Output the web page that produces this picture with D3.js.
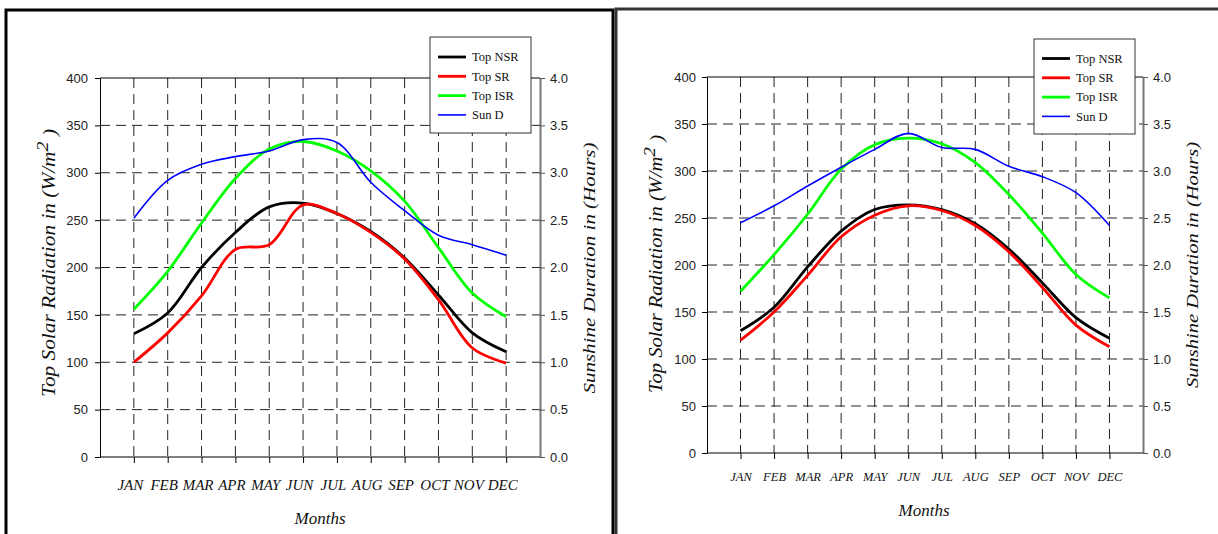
<!DOCTYPE html>
<html>
<head>
<meta charset="utf-8">
<script src="https://cdn.jsdelivr.net/npm/d3@7/dist/d3.min.js"></script>
<style>
  body { margin: 0; background: #fff; }
  svg { display: block; }
  .tick-lbl { font-family: "Liberation Sans", Arial, sans-serif; font-size: 13px; fill: #222; }
  .ser { font-family: "Liberation Serif", "Times New Roman", serif; font-style: italic; fill: #111; }
  .leg { font-family: "Liberation Serif", "Times New Roman", serif; font-size: 12.5px; fill: #111; }
</style>
</head>
<body>
<div id="chart"></div>
<script>
// months on the x axis
var months = ["JAN","FEB","MAR","APR","MAY","JUN","JUL","AUG","SEP","OCT","NOV","DEC"];
var radTicks = [0, 50, 100, 150, 200, 250, 300, 350, 400];
var sunTicks = [0, 0.5, 1, 1.5, 2, 2.5, 3, 3.5, 4];

// left panel (W/m2 and hours)
var leftNSR = [130, 152, 200, 237, 264, 268, 257, 238, 210, 171, 131, 111];
var leftSR  = [100, 131, 170, 219, 224, 266, 257, 237, 209, 166, 115, 99];
var leftISR = [156, 196, 247, 294, 325, 333, 323, 302, 270, 221, 173, 148];
var leftSun = [2.52, 2.92, 3.09, 3.17, 3.23, 3.35, 3.32, 2.90, 2.60, 2.34, 2.24, 2.13];

// right panel
var rightNSR = [130, 155, 198, 236, 259, 264, 259, 244, 217, 181, 144, 122];
var rightSR  = [120, 150, 189, 230, 253, 263, 258, 242, 214, 176, 136, 113];
var rightISR = [172, 211, 254, 302, 328, 335, 329, 309, 275, 234, 190, 165];
var rightSun = [2.45, 2.63, 2.84, 3.04, 3.23, 3.40, 3.25, 3.23, 3.05, 2.94, 2.77, 2.42];

var seriesNames = ["Top NSR", "Top SR", "Top ISR", "Sun D"];
var seriesColors = ["#000000", "#ff0000", "#00ff00", "#0000ff"];

var svg = d3.select("#chart").append("svg")
  .attr("width", 1218).attr("height", 534);

// frames of the two pictures
svg.append("rect").attr("x", 6).attr("y", 10).attr("width", 607).attr("height", 600)
  .attr("fill", "none").attr("stroke", "#000").attr("stroke-width", 3);
svg.append("rect").attr("x", 616).attr("y", 9).attr("width", 640).attr("height", 600)
  .attr("fill", "none").attr("stroke", "#333").attr("stroke-width", 3);

function drawPanel(o) {
  var g = svg.append("g");
  var x = d3.scaleLinear().domain([0, 13]).range([o.x0, o.x1]);
  var y = d3.scaleLinear().domain([0, 400]).range([o.y1, o.y0]);
  var y2 = d3.scaleLinear().domain([0, 4]).range([o.y1, o.y0]);

  // grid
  g.selectAll(".vg").data(months).enter().append("line")
    .attr("x1", function(d, i) { return x(i + 1); }).attr("x2", function(d, i) { return x(i + 1); })
    .attr("y1", o.y0).attr("y2", o.y1)
    .attr("stroke", "#222").attr("stroke-dasharray", "10,6");
  g.selectAll(".hg").data(radTicks.slice(1, -1)).enter().append("line")
    .attr("x1", o.x0).attr("x2", o.x1)
    .attr("y1", function(d) { return y(d); }).attr("y2", function(d) { return y(d); })
    .attr("stroke", "#222").attr("stroke-dasharray", "10,6");

  // box lines
  g.append("line").attr("x1", o.x0).attr("x2", o.x1).attr("y1", o.y0).attr("y2", o.y0).attr("stroke", "#000");
  g.append("line").attr("x1", o.x0).attr("x2", o.x1).attr("y1", o.y1).attr("y2", o.y1).attr("stroke", "#000");

  // axes
  var axL = g.append("g").attr("transform", "translate(" + o.x0 + ",0)")
    .call(d3.axisLeft(y).tickValues(radTicks).tickSize(5).tickSizeOuter(0).tickPadding(o.padL));
  axL.selectAll("text").attr("class", "tick-lbl");
  axL.select(".domain").attr("stroke", "#000");

  var axR = g.append("g").attr("transform", "translate(" + o.x1 + ",0)")
    .call(d3.axisRight(y2).tickValues(sunTicks).tickSize(5).tickSizeOuter(0).tickPadding(5)
      .tickFormat(d3.format(".1f")));
  axR.selectAll("text").attr("class", "tick-lbl");
  axR.select(".domain").attr("stroke", "#777").attr("stroke-width", 2);
  axR.selectAll("line").attr("stroke", "#555");

  var axB = g.append("g").attr("transform", "translate(0," + o.y1 + ")")
    .call(d3.axisBottom(x).tickValues(d3.range(1, 13)).tickSize(6).tickSizeOuter(0)
      .tickFormat(function(d) { return months[d - 1]; }).tickPadding(o.padB));
  axB.select(".domain").remove();
  axB.selectAll("text").attr("class", "ser").style("font-size", o.monthFont + "px")
    .attr("fill", "#111").attr("dx", o.monthShift);

  // curves
  var line = d3.line()
    .x(function(d, i) { return x(i + 1); })
    .y(function(d) { return y(d); })
    .curve(d3.curveCatmullRom.alpha(0.5));
  var line2 = d3.line()
    .x(function(d, i) { return x(i + 1); })
    .y(function(d) { return y2(d); })
    .curve(d3.curveCatmullRom.alpha(0.5));
  var rad = [o.nsr, o.sr, o.isr];
  [o.isr, o.nsr, o.sr].forEach(function(s) {
    var k = rad.indexOf(s);
    g.append("path").datum(s).attr("d", line)
      .attr("fill", "none").attr("stroke", seriesColors[k]).attr("stroke-width", 2.8);
  });
  g.append("path").datum(o.sun).attr("d", line2)
    .attr("fill", "none").attr("stroke", seriesColors[3]).attr("stroke-width", 1.6);

  // axis titles (stretched along the baseline like the original)
  var t1 = g.append("text").attr("class", "ser").style("font-size", "18px")
    .attr("text-anchor", "middle")
    .attr("transform", "translate(" + o.yLabelX + "," + o.yLabelY + ") rotate(-90)")
    .attr("dy", "0.35em")
    .attr("textLength", o.yLabelLen).attr("lengthAdjust", "spacingAndGlyphs");
  t1.append("tspan").text("Top Solar Radiation in (W/m");
  t1.append("tspan").attr("dy", "-0.45em").style("font-size", "17px").text("2");
  t1.append("tspan").attr("dy", "0.45em").text(" )");

  g.append("text").attr("class", "ser").style("font-size", "17px")
    .attr("text-anchor", "middle")
    .attr("transform", "translate(" + o.y2LabelX + "," + o.y2LabelY + ") rotate(-90)")
    .attr("dy", "0.35em")
    .attr("textLength", o.y2LabelLen).attr("lengthAdjust", "spacingAndGlyphs")
    .text("Sunshine Duration in (Hours)");

  g.append("text").attr("class", "ser").style("font-size", "17px")
    .attr("text-anchor", "middle").attr("x", o.monthsX).attr("y", o.monthsY)
    .text("Months");

  // legend
  var L = o.legend;
  var lg = g.append("g");
  lg.append("rect").attr("x", L.x).attr("y", L.y).attr("width", L.w).attr("height", L.h)
    .attr("fill", "#fff").attr("stroke", "#333").attr("stroke-width", 1);
  seriesNames.forEach(function(n, i) {
    var yy = L.row0 + i * 19.3;
    lg.append("line").attr("x1", L.x + 8).attr("x2", L.x + 36).attr("y1", yy).attr("y2", yy)
      .attr("stroke", seriesColors[i]).attr("stroke-width", i < 3 ? 2.8 : 1.6);
    lg.append("text").attr("class", "leg").attr("x", L.x + 42).attr("y", yy).attr("dy", "0.35em").text(n);
  });
}

drawPanel({
  x0: 100, x1: 540, y0: 78, y1: 457,
  padL: 7, padB: 16, monthFont: 15, monthShift: -4,
  monthsX: 320, monthsY: 524,
  yLabelX: 49, yLabelY: 263, yLabelLen: 268,
  y2LabelX: 589, y2LabelY: 268, y2LabelLen: 251,
  legend: { x: 430, y: 37, w: 101, h: 96, row0: 57 },
  nsr: leftNSR, sr: leftSR, isr: leftISR, sun: leftSun
});

drawPanel({
  x0: 707, x1: 1143, y0: 77, y1: 453,
  padL: 6, padB: 13, monthFont: 12.5, monthShift: 0,
  monthsX: 924, monthsY: 516,
  yLabelX: 656, yLabelY: 264, yLabelLen: 258,
  y2LabelX: 1192, y2LabelY: 265, y2LabelLen: 246,
  legend: { x: 1034, y: 39, w: 101, h: 95, row0: 58.5 },
  nsr: rightNSR, sr: rightSR, isr: rightISR, sun: rightSun
});
</script>
</body>
</html>
